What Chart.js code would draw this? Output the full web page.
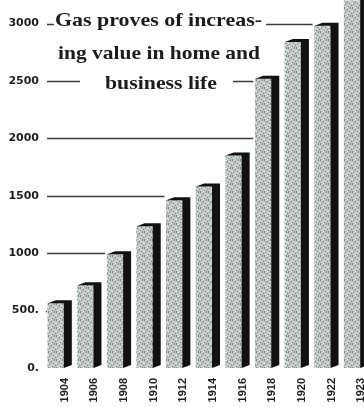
<!DOCTYPE html>
<html>
<head>
<meta charset="utf-8">
<script src="https://cdn.jsdelivr.net/npm/chart.js@4"></script>
<style>
  html, body { margin: 0; padding: 0; background: #fff; overflow: hidden; }
  #wrap { width: 372px; height: 407px; }
</style>
</head>
<body>
<div id="wrap"><canvas id="gasChart"></canvas></div>
<script>
const years = ['1904', '1906', '1908', '1910', '1912', '1914', '1916', '1918', '1920', '1922', '1923'];
const sales = [565, 720, 990, 1235, 1460, 1580, 1850, 2520, 2840, 2980, 3300];
const tickValues = [0, 500, 1000, 1500, 2000, 2500, 3000];
const tickLabels = ['0.', '500.', '1000', '1500', '2000', '2500', '3000'];
const titleLines = ['Gas proves of increas-', 'ing value in home and', 'business life'];

const ctx = document.getElementById('gasChart').getContext('2d');

// speckled grey fill like the old print
function stipple() {
    const c = document.createElement('canvas');
    c.width = 8; c.height = 8;
    const g = c.getContext('2d');
    g.fillStyle = '#bfc5c2';
    g.fillRect(0, 0, 8, 8);
    g.fillStyle = '#848a87';
    [[0, 0], [3, 1], [6, 0], [5, 3], [1, 4], [7, 5], [4, 6], [2, 2], [0, 7], [6, 7]]
        .forEach(p => g.fillRect(p[0], p[1], 1, 1));
    g.fillStyle = '#e2e6e4';
    [[2, 0], [5, 1], [0, 3], [3, 4], [7, 2], [5, 5], [1, 6], [3, 7]]
        .forEach(p => g.fillRect(p[0], p[1], 1, 1));
    return ctx.createPattern(c, 'repeat');
}

const titleBoxes = [
    { x: 55, w: 207, base: 26, gap: [54, 266] },
    { x: 58, w: 202, base: 59, gap: [56, 262] },
    { x: 105, w: 112, base: 89, gap: [80, 233] }
];

const decor = {
    id: 'decor',
    beforeDatasetsDraw(chart) {
        const c = chart.ctx;
        const y = chart.scales.y;
        const meta = chart.getDatasetMeta(0);
        c.save();
        c.strokeStyle = '#3a3a3a';
        c.lineWidth = 1.5;
        tickValues.forEach(v => {
            if (v === 0) return;
            const py = Math.round(y.getPixelForValue(v)) + 0.5;
            const i = sales.findIndex(s => s > v - 50);
            const bar = meta.data[i];
            const end = bar.x - bar.width / 2 - 2;
            c.beginPath();
            c.moveTo(47, py);
            c.lineTo(end, py);
            c.stroke();
        });
        c.font = 'bold 19px "Liberation Serif"';
        c.textBaseline = 'alphabetic';
        titleLines.forEach((t, k) => {
            const b = titleBoxes[k];
            c.fillStyle = '#fff';
            c.fillRect(b.gap[0], b.base - 20, b.gap[1] - b.gap[0], 27);
            const m = c.measureText(t).width;
            c.save();
            c.translate(b.x, b.base);
            c.scale(b.w / m, 1);
            c.fillStyle = '#1c1c1c';
            c.fillText(t, 0, 0);
            c.restore();
        });
        c.restore();
    },
    afterDatasetsDraw(chart) {
        const c = chart.ctx;
        const meta = chart.getDatasetMeta(0);
        const d = 8, dy = 3;
        c.save();
        c.fillStyle = '#111';
        meta.data.forEach(bar => {
            const l = bar.x - bar.width / 2, r = bar.x + bar.width / 2;
            const t = bar.y, b = bar.base;
            c.beginPath();
            c.moveTo(l, t);
            c.lineTo(l + d, t - dy);
            c.lineTo(r + d, t - dy);
            c.lineTo(r + d, b - dy);
            c.lineTo(r, b);
            c.lineTo(r, t);
            c.closePath();
            c.fill();
        });
        c.restore();
    }
};

new Chart(ctx, {
    type: 'bar',
    data: {
        labels: years,
        datasets: [{
            data: sales,
            backgroundColor: stipple(),
            borderWidth: 0,
            barThickness: 16
        }]
    },
    options: {
        responsive: true,
        maintainAspectRatio: false,
        animation: false,
        layout: { padding: { top: 0, right: 5, left: 0, bottom: 0 } },
        plugins: {
            legend: { display: false },
            tooltip: { enabled: false }
        },
        scales: {
            x: {
                grid: { display: false },
                border: { display: false },
                afterFit(scale) { scale.height = 39; },
                ticks: {
                    autoSkip: false,
                    minRotation: 90,
                    maxRotation: 90,
                    padding: 2,
                    labelOffset: 9,
                    color: '#1e1e1e',
                    font: { family: 'Liberation Sans', size: 11, weight: 'bold' }
                }
            },
            y: {
                min: 0,
                max: 3200,
                grid: { display: false },
                border: { display: false },
                afterFit(scale) { scale.width = 41; },
                afterBuildTicks(scale) { scale.ticks = tickValues.map(v => ({ value: v })); },
                ticks: {
                    padding: -6,
                    color: '#1e1e1e',
                    font: { family: 'DejaVu Sans', size: 11, weight: 'bold' },
                    callback: (v) => tickLabels[tickValues.indexOf(v)]
                }
            }
        }
    },
    plugins: [decor]
});
</script>
</body>
</html>
